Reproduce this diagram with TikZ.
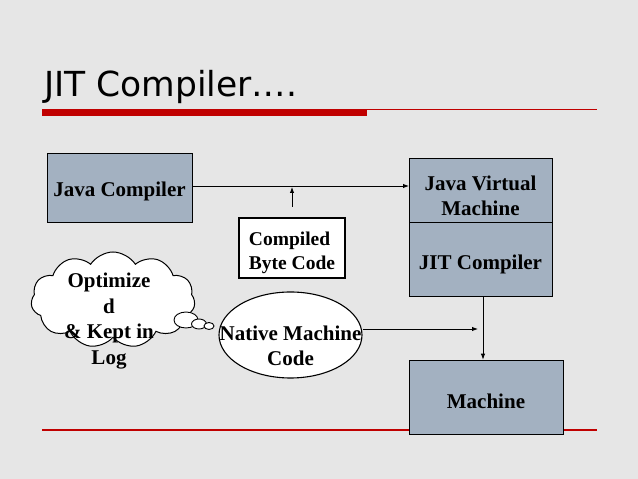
\documentclass[tikz,border=0pt]{standalone}
\usepackage{fontspec}
\setmainfont{Liberation Serif}
\newfontfamily\titlefont{DejaVu Sans}
\usetikzlibrary{arrows.meta,shapes.geometric,shapes.symbols}
\definecolor{bgc}{RGB}{230,230,230}
\definecolor{boxc}{RGB}{163,177,193}
\definecolor{redc}{RGB}{192,0,0}
\tikzset{
  bluebox/.style={draw=black,line width=1.3pt,fill=boxc,inner sep=0pt,anchor=south west},
  lbl/.style={font=\bfseries\fontsize{21}{25}\selectfont,align=center,inner sep=0pt},
  arr/.style={draw=black,line width=0.9pt,-{Latex[length=6pt,width=4.5pt]}},
  bub/.style={draw=black,line width=0.9pt,fill=white,ellipse,inner sep=0pt}
}
\begin{document}
\begin{tikzpicture}[x=1pt,y=1pt]
\fill[bgc] (0,0) rectangle (638,479);
\useasboundingbox (0,0) rectangle (638,479);
% title
\node[anchor=base west,inner sep=0pt,font=\titlefont\fontsize{34.5}{40}\selectfont] (title) at (44,382) {JIT Compiler….};
\draw[redc,line width=1.2pt] (42,369.5) -- (597,369.5);
\fill[redc] (42,363) rectangle (367,370);
\draw[redc,line width=1.2pt] (42,49) -- (597,49);
% boxes
\node[bluebox,minimum width=145pt,minimum height=69pt] (jc) at (47,256) {};
\node[lbl] (jct) at (119.5,288) {Java Compiler};
\node[bluebox,minimum width=143pt,minimum height=74pt] (jit) at (409,182) {};
\node[lbl] (jitt) at (480.5,215) {JIT Compiler};
\node[bluebox,minimum width=143pt,minimum height=64pt] (jvm) at (409,256) {};
\node[lbl] (jvmt) at (480.5,283) {Java Virtual\\Machine};
\node[bluebox,minimum width=154pt,minimum height=74pt] (mach) at (409,44) {};
\node[lbl] (macht) at (486,78) {Machine};
\node[draw=black,line width=1.3pt,fill=white,minimum width=106pt,minimum height=60pt,inner sep=0pt] (cbc) at (292,231) {};
\node[lbl,align=left,font=\bfseries\fontsize{19.5}{24}\selectfont] (cbct) at (292,226) {Compiled\\Byte Code};
% ellipse
\node[draw=black,line width=1.1pt,fill=white,ellipse,minimum width=143pt,minimum height=86pt,inner sep=0pt] (nm) at (290.5,144) {};
\node[lbl] (nmt) at (290.5,133) {Native Machine\\Code};
% cloud
\node[cloud,draw=black,line width=1pt,fill=white,cloud puffs=11,cloud puff arc=115,aspect=1.8,minimum width=164pt,minimum height=96pt,inner sep=0pt] (cl) at (113,179) {};
\node[bub,minimum width=24pt,minimum height=16pt] (b1) at (186,159) {};
\node[bub,minimum width=15pt,minimum height=10pt] (b2) at (199,155) {};
\node[bub,minimum width=10pt,minimum height=7pt] (b3) at (209,153) {};
\node[lbl,font=\bfseries\fontsize{21}{25.5}\selectfont] (clt) at (109,158) {Optimize\\d\\\& Kept in\\Log};
% arrows
\coordinate (upS) at (292,272);
\coordinate (upE) at (292,292);
\draw[arr] (jc.east |- 0,293) -- (jvm.west |- 0,293);
\draw[arr] (upS) -- (upE);
\draw[arr] (jit.south -| 483,0) -- (mach.north -| 483,0);
\coordinate (nmE) at (478,150);
\draw[arr] (nm.east |- 0,150) -- (nmE);
\end{tikzpicture}
\end{document}
